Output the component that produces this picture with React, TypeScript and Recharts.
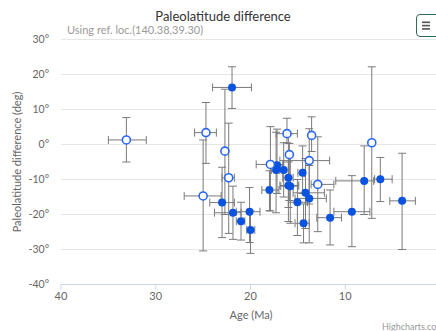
import React from "react";
import { ScatterChart, Scatter, XAxis, YAxis, CartesianGrid, ErrorBar } from "recharts";

// Filled points (age Ma, paleolatitude difference deg, error bounds)
const filledAge = [21.95, 23.0, 21.85, 21.0, 20.1, 20.0, 18.0, 17.2, 17.3, 16.5, 16.0, 14.5, 16.0, 15.8, 14.2, 13.8, 15.05, 14.4, 11.6, 9.3, 8.0, 6.3, 4.0];
const filledLat = [16.3, -16.6, -19.5, -21.9, -19.2, -24.4, -13.0, -5.9, -7.3, -7.3, -9.5, -8.1, -11.7, -11.9, -13.8, -15.4, -16.5, -22.5, -20.9, -19.2, -10.4, -9.9, -16.1];
const filledAgeMin = [19.9, 21.7, 21.0, 20.6, 19.0, 19.55, 17.0, 16.6, 16.9, 16.0, 15.5, 14.3, 14.9, 15.0, 12.2, 12.0, 14.0, 13.8, 10.4, 7.4, 7.0, 5.05, 2.6];
const filledAgeMax = [24.0, 24.3, 23.8, 21.5, 21.5, 20.4, 18.8, 17.9, 17.8, 17.0, 16.6, 15.0, 16.9, 16.8, 15.5, 15.3, 16.0, 15.3, 13.0, 11.2, 11.0, 6.9, 5.3];
const filledLatMin = [10.3, -26.6, -27.1, -27.3, -28.0, -31.1, -18.9, -14.0, -19.5, -15.0, -22.0, -14.0, -18.0, -22.5, -24.0, -28.1, -26.0, -28.1, -28.7, -29.2, -20.0, -16.3, -30.0];
const filledLatMax = [22.2, -6.5, -11.9, -16.5, -12.3, -19.0, -7.5, 4.4, 3.5, 0.5, 3.0, -0.4, -5.0, -3.0, -4.0, -6.0, -10.0, -17.0, -13.0, -8.9, -0.4, -3.7, -2.5];

// Hollow points
const hollowAge = [33.1, 24.7, 25.0, 22.7, 22.3, 17.9, 16.15, 15.9, 13.55, 13.8, 12.9, 7.2];
const hollowLat = [1.3, 3.4, -14.7, -1.9, -9.5, -5.7, 3.1, -2.9, 2.6, -4.6, -11.4, 0.5];
const hollowAgeMin = [31.0, 23.6, 23.1, 22.7, 21.7, 16.5, 15.05, 15.9, 13.55, 11.65, 11.2, 7.2];
const hollowAgeMax = [35.0, 25.9, 27.0, 22.7, 23.0, 19.4, 17.3, 15.9, 13.55, 16.9, 13.6, 7.2];
const hollowLatMin = [-5.0, -5.4, -30.4, -20.0, -25.4, -19.0, 0.5, -16.0, -2.0, -17.0, -24.9, -21.1];
const hollowLatMax = [7.7, 12.0, 1.3, 15.8, 6.1, 5.1, 7.5, 0.3, 7.9, 4.5, 2.2, 22.2];

const xTicks = [0, 10, 20, 30, 40];
const yTicks = [-40, -30, -20, -10, 0, 10, 20, 30];

const build = (age: number[], lat: number[], aMin: number[], aMax: number[], lMin: number[], lMax: number[]) =>
  age.map((a, i) => ({
    age: a,
    lat: lat[i],
    ex: [a - aMin[i], aMax[i] - a],
    ey: [lat[i] - lMin[i], lMax[i] - lat[i]],
  }));

const filledData = build(filledAge, filledLat, filledAgeMin, filledAgeMax, filledLatMin, filledLatMax);
const hollowData = build(hollowAge, hollowLat, hollowAgeMin, hollowAgeMax, hollowLatMin, hollowLatMax);

const FONT = "Lato, 'Noto Sans', sans-serif";

const FilledDot = (p: any) => <circle cx={p.cx} cy={p.cy} r={4} fill="#0a52e0" />;
const HollowDot = (p: any) => <circle cx={p.cx} cy={p.cy} r={4} fill="#ffffff" stroke="#2a68f0" strokeWidth={1.6} />;

const barStroke = "#7a7a7a";

export default function App() {
  return (
    <div style={{ position: "absolute", left: 0, top: 0, width: 436, height: 331, overflow: "hidden", background: "#fff", fontFamily: FONT }}>
      <ScatterChart width={446} height={331} margin={{ top: 39.5, right: 6, bottom: 0, left: 21 }} style={{ fontFamily: FONT }}>
        <CartesianGrid horizontal={true} vertical={false} stroke="#e6e6e6" />
        <XAxis
          type="number"
          dataKey="age"
          domain={[0, 40]}
          ticks={xTicks}
          reversed
          height={46.5}
          axisLine={{ stroke: "#ccd6eb" }}
          tickLine={{ stroke: "#ccd6eb" }}
          tickSize={5}
          tickMargin={3}
          tick={{ fill: "#666", fontSize: 11 }}
          interval={0}
          allowDataOverflow
        />
        <YAxis
          type="number"
          dataKey="lat"
          domain={[-40, 30]}
          ticks={yTicks}
          width={40}
          axisLine={false}
          tickLine={false}
          tickSize={0}
          tickMargin={12}
          tick={{ fill: "#666", fontSize: 10.5 }}
          tickFormatter={(v: number) => `${v}°`}
          interval={0}
          allowDataOverflow
        />
        <Scatter data={filledData} isAnimationActive={false} shape={FilledDot}>
          <ErrorBar dataKey="ey" direction="y" width={4} stroke={barStroke} strokeWidth={1} />
          <ErrorBar dataKey="ex" direction="x" width={4} stroke={barStroke} strokeWidth={1} />
        </Scatter>
        <Scatter data={hollowData} isAnimationActive={false} shape={HollowDot}>
          <ErrorBar dataKey="ey" direction="y" width={4} stroke={barStroke} strokeWidth={1} />
          <ErrorBar dataKey="ex" direction="x" width={4} stroke={barStroke} strokeWidth={1} />
        </Scatter>
      </ScatterChart>
      <svg width={436} height={331} style={{ position: "absolute", left: 0, top: 0, pointerEvents: "none" }}>
        <text x={223} y={21} textAnchor="middle" fontSize={13} fill="#333" fontFamily={FONT}>Paleolatitude difference</text>
        <text x={67} y={34} fontSize={11} fill="#999" fontFamily={FONT}>Using ref. loc.(140.38,39.30)</text>
        <text x={21} y={162} textAnchor="middle" fontSize={11} fill="#666" fontFamily={FONT} transform="rotate(-90 21 162)">Paleolatitude difference (deg)</text>
        <text x={251} y={319} textAnchor="middle" fontSize={11} fill="#666" fontFamily={FONT}>Age (Ma)</text>
        <text x={382} y={330} fontSize={9} fill="#999" fontFamily={FONT}>Highcharts.com</text>
      </svg>
      <div style={{ position: "absolute", left: 416, top: 14, width: 24, height: 23, border: "1.5px solid #2f6b52", borderRadius: 4, background: "#fff", boxSizing: "border-box" }}>
        <svg width={24} height={23} style={{ position: "absolute", left: 0, top: 0 }}>
          <rect x={5} y={6.5} width={8} height={1.6} fill="#555" />
          <rect x={5} y={9.8} width={8} height={1.6} fill="#555" />
          <rect x={5} y={13.1} width={8} height={1.6} fill="#555" />
        </svg>
      </div>
    </div>
  );
}
